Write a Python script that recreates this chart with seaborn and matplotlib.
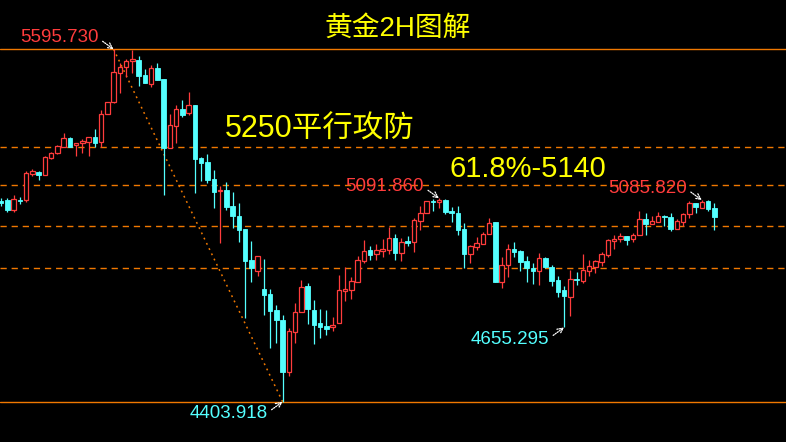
import matplotlib
matplotlib.use("Agg")
import matplotlib.pyplot as plt
import seaborn as sns
import numpy as np

sns.set_style("dark", {"axes.facecolor": "black", "figure.facecolor": "black"})
plt.rcParams['font.family'] = ['Liberation Sans', 'Noto Sans CJK SC', 'DejaVu Sans']

# 2H gold candles
opens = [5082, 5085, 5052, 5085, 5086, 5174, 5181, 5171, 5229, 5244,
         5266, 5296, 5271, 5278, 5283, 5299, 5283, 5378, 5417, 5517,
         5535, 5555, 5559, 5509, 5479, 5533, 5495, 5263, 5337, 5394,
         5381, 5407, 5229, 5215, 5157, 5117, 5120, 5066, 5032, 4988,
         4883, 4847, 4785, 4768, 4714, 4680, 4505, 4641, 4706, 4795,
         4714, 4669, 4660, 4656, 4671, 4779, 4783, 4810, 4880, 4917,
         4903, 4915, 4917, 4957, 4908, 4947, 4945, 5016, 5041, 5083,
         5078, 5086, 5049, 5041, 4987, 4905, 4928, 4938, 4970, 5012,
         4810, 4865, 4920, 4914, 4880, 4855, 4847, 4890, 4861, 4816,
         4782, 4757, 4820, 4813, 4847, 4861, 4877, 4901, 4947, 4953,
         4964, 4955, 4967, 5022, 5006, 5013, 5032, 5028, 4989, 5013,
         5038, 5075, 5060, 5083, 5058]
closes = [5077, 5052, 5089, 5083, 5176, 5183, 5171, 5231, 5244, 5268,
          5295, 5266, 5278, 5286, 5298, 5280, 5377, 5418, 5518, 5535,
          5556, 5562, 5506, 5483, 5532, 5493, 5263, 5339, 5394, 5374,
          5407, 5226, 5212, 5154, 5114, 5120, 5063, 5032, 4985, 4880,
          4855, 4897, 4765, 4712, 4680, 4505, 4643, 4706, 4793, 4717,
          4663, 4658, 4650, 4663, 4782, 4784, 4812, 4883, 4914, 4900,
          4916, 4920, 4957, 4908, 4944, 4941, 5019, 5041, 5082, 5078,
          5086, 5047, 5041, 4985, 4905, 4931, 4940, 4971, 5007, 4809,
          4865, 4919, 4911, 4877, 4855, 4847, 4889, 4859, 4813, 4776,
          4763, 4818, 4815, 4849, 4863, 4880, 4904, 4951, 4954, 4964,
          4951, 4967, 5021, 5005, 5014, 5032, 5028, 4989, 5015, 5039,
          5075, 5063, 5078, 5056, 5030]
highs = [5092, 5093, 5103, 5095, 5184, 5191, 5184, 5235, 5248, 5272,
         5313, 5299, 5278, 5292, 5298, 5326, 5391, 5418, 5595.73, 5548,
         5563, 5592, 5574, 5529, 5543, 5549, 5495, 5377, 5407, 5424,
         5451, 5407, 5233, 5242, 5188, 5135, 5146, 5112, 5075, 4988,
         4947, 4897, 4887, 4785, 4731, 4696, 4652, 4737, 4816, 4804,
         4748, 4718, 4714, 4689, 4832, 4859, 4825, 4897, 4951, 4931,
         4937, 4953, 4994, 4971, 4957, 4964, 5024, 5066, 5082, 5090,
         5091.86, 5089, 5063, 5066, 5007, 4934, 4960, 4979, 5024, 5012,
         4894, 4937, 4945, 4917, 4897, 4874, 4906, 4894, 4866, 4829,
         4795, 4849, 4843, 4904, 4883, 4883, 4911, 4953, 4968, 4974,
         4964, 4974, 5049, 5043, 5032, 5046, 5036, 5042, 5021, 5042,
         5083, 5075, 5085.82, 5085, 5075]
lows = [5067, 5047, 5047, 5073, 5080, 5166, 5153, 5171, 5224, 5243,
        5264, 5265, 5236, 5246, 5236, 5266, 5266, 5378, 5413, 5447,
        5503, 5515, 5472, 5483, 5469, 5493, 5103, 5263, 5280, 5368,
        5374, 5111, 5151, 5145, 5058, 4941, 5052, 4992, 4945, 4688,
        4810, 4830, 4697, 4587, 4604, 4403.918, 4492, 4604, 4706, 4668,
        4598, 4620, 4630, 4644, 4671, 4746, 4751, 4810, 4872, 4883,
        4883, 4894, 4904, 4883, 4880, 4931, 4911, 4985, 5041, 5049,
        5060, 5039, 5013, 4968, 4855, 4874, 4917, 4937, 4970, 4809,
        4790, 4827, 4894, 4847, 4810, 4803, 4800, 4855, 4794, 4759,
        4655.295, 4695, 4800, 4806, 4829, 4840, 4863, 4894, 4921, 4945,
        4934, 4945, 4967, 4968, 5006, 5013, 4999, 4982, 4989, 4998,
        5024, 5041, 5060, 5050, 4985]

dashed_levels = [5264, 5136, 4997, 4855]
title = "黄金2H图解"
note_1 = "5250平行攻防"
note_2 = "61.8%-5140"

# marked swing points: (candle index, use high?)
marks = [(18, True), (45, False), (70, True), (90, False), (112, True)]

RED = "#FF3C3C"
CYAN = "#54FFFF"
ORANGE = "#F07800"

o = np.array(opens, float)
c = np.array(closes, float)
h = np.array(highs, float)
l = np.array(lows, float)
x = np.arange(len(o))
up = c >= o

fig = plt.figure(figsize=(7.86, 4.42), dpi=100)
ax = fig.add_axes([0, 0, 1, 1])
ax.set_facecolor("black")

# level lines
ax.axhline(h.max(), color=ORANGE, lw=1.0, zorder=1)
ax.axhline(l.min(), color=ORANGE, lw=1.0, zorder=1)
for lv in dashed_levels:
    ax.axhline(lv, color=ORANGE, lw=1.0, ls=(0, (4.5, 3.5)), zorder=1)

# dotted swing line from top to bottom
i_hi, i_lo = int(np.argmax(h)), int(np.argmin(l))
ax.plot([i_hi, i_lo], [h[i_hi], l[i_lo]], color=ORANGE, lw=1.1,
        ls=(0, (1.2, 2.6)), zorder=2)

# wicks
ax.vlines(x[up], l[up], h[up], color=RED, lw=0.9, zorder=3)
ax.vlines(x[~up], l[~up], h[~up], color=CYAN, lw=0.9, zorder=3)

# bodies
w = 0.72
ax.bar(x[up], c[up] - o[up], bottom=o[up], width=w, facecolor="black",
       edgecolor=RED, lw=0.9, zorder=4)
ax.bar(x[~up], o[~up] - c[~up], bottom=c[~up], width=w, facecolor=CYAN,
       edgecolor=CYAN, lw=0.6, zorder=4)

ax.set_xlim(-0.16, 125.45)
ax.set_ylim(4267.7, 5762.5)
ax.set_xticks([])
ax.set_yticks([])
for s in ax.spines.values():
    s.set_visible(False)

# price marks with little arrows
for idx, is_high in marks:
    if is_high:
        val, col, sgn = h[idx], RED, 1
    else:
        val, col, sgn = l[idx], CYAN, -1
    ax.annotate("", xy=(idx, val), xytext=(-11, sgn * 8),
                textcoords="offset pixels",
                arrowprops=dict(arrowstyle="->", color="white", lw=0.9,
                                ls=(0, (1, 1)), shrinkA=0, shrinkB=0),
                zorder=6)
    ax.annotate(f"{val:.3f}", xy=(idx, val), xytext=(-15, sgn * 12),
                textcoords="offset pixels", ha="right", va="center",
                color=col, fontsize=13.5, zorder=6)

ax.text(0.506, 0.934, title, transform=ax.transAxes, ha="center",
        va="center", color="#FFFF00", fontsize=20)
ax.text(0.286, 0.706, note_1, transform=ax.transAxes, ha="left",
        va="center", color="#FFFF00", fontsize=22)
ax.text(0.5725, 0.618, note_2, transform=ax.transAxes, ha="left",
        va="center", color="#FFFF00", fontsize=21)

fig.savefig("out.png", dpi=100, facecolor="black")
